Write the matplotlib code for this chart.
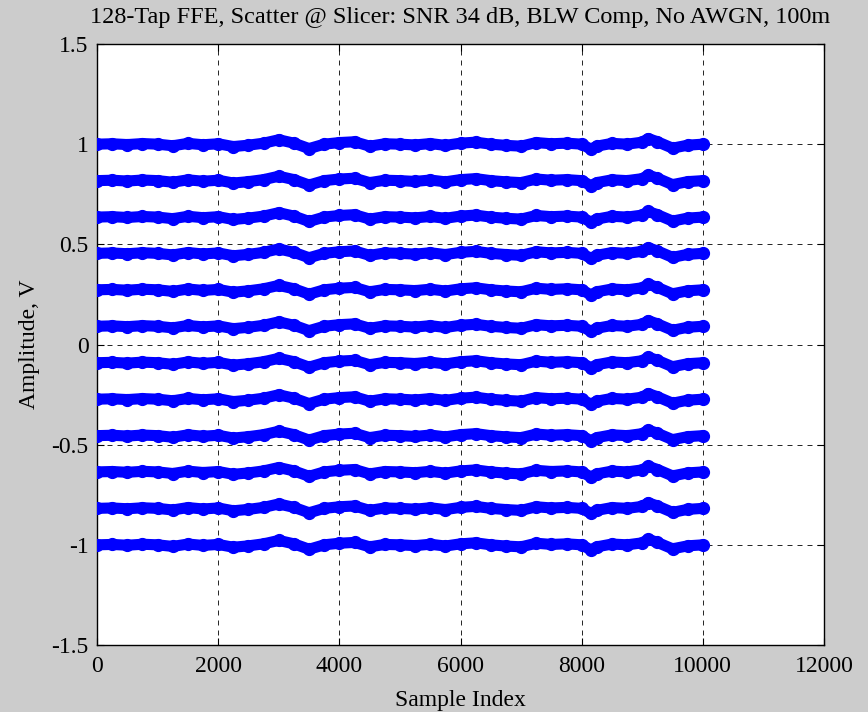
import numpy as np
import matplotlib.pyplot as plt
import matplotlib

matplotlib.rcParams['font.family'] = 'Liberation Serif'

# slicer levels (V)
levels = [1.0, 0.818, 0.636, 0.455, 0.273, 0.091,
          -0.091, -0.273, -0.455, -0.636, -0.818, -1.0]

# shared baseline wander (sample index, offset in V)
wander_idx = [0, 250, 500, 750, 1000, 1250, 1500, 1750, 2000, 2250, 2500,
              2750, 3000, 3250, 3500, 3750, 4000, 4250, 4500, 4750, 5000,
              5250, 5500, 5750, 6000, 6250, 6500, 6750, 7000, 7250, 7500,
              7750, 8000, 8150, 8250, 8500, 8750, 9000, 9100, 9250, 9500,
              9750, 10000]
wander = [0.000, 0.002, -0.002, 0.003, 0.000, -0.008, 0.004, -0.003, 0.002,
          -0.012, -0.005, 0.005, 0.022, 0.005, -0.022, 0.000, 0.008, 0.012,
          -0.010, 0.002, 0.000, -0.004, 0.003, -0.006, 0.005, 0.010, 0.000,
          -0.006, -0.010, 0.008, 0.002, 0.005, 0.000, -0.025, -0.010, 0.004,
          0.000, 0.010, 0.028, 0.012, -0.020, -0.005, 0.000]

fig = plt.figure(figsize=(8.68, 7.12), dpi=100, facecolor='#cccccc')
ax = fig.add_axes([0.1118, 0.0941, 0.8375, 0.8441])
ax.set_facecolor('white')

x = np.array(wander_idx)
w = np.array(wander)
for lev in levels:
    ax.plot(x, lev + w, color='#0000ff', lw=8, solid_capstyle='round',
            solid_joinstyle='round', marker='o', ms=8.5, mec='#0000ff',
            mfc='#0000ff', zorder=3)

ax.set_xlim(0, 12000)
ax.set_ylim(-1.5, 1.5)
ax.set_xticks(np.arange(0, 12001, 2000))
ax.set_yticks([-1.5, -1, -0.5, 0, 0.5, 1, 1.5])
ax.set_yticklabels(['-1.5', '-1', '-0.5', '0', '0.5', '1', '1.5'])
ax.grid(True, color='black', linestyle=(0, (6, 6)), linewidth=0.6, zorder=0)
ax.set_axisbelow(True)
ax.tick_params(direction='in', top=True, right=True, labelsize=17, length=5)
ax.tick_params(axis='x', pad=8)
ax.tick_params(axis='y', pad=6)
for s in ax.spines.values():
    s.set_linewidth(1.0)

ax.set_xlabel('Sample Index', fontsize=17, labelpad=9)
ax.set_ylabel('Amplitude, V', fontsize=17, labelpad=8)
ax.set_title('128-Tap FFE, Scatter @ Slicer: SNR 34 dB, BLW Comp, No AWGN, 100m',
             fontsize=17.5, pad=15)

plt.savefig('out.png', dpi=100, facecolor=fig.get_facecolor())
